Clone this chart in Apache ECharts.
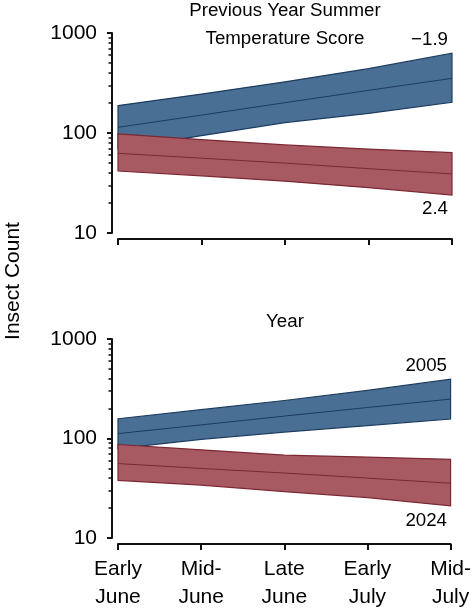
<!DOCTYPE html>
<html>
<head>
<meta charset="utf-8">
<script src="https://cdn.jsdelivr.net/npm/echarts@6/dist/echarts.min.js"></script>
<style>
  html, body { margin: 0; padding: 0; background: #fff; }
  #chart { width: 474px; height: 611px; }
</style>
</head>
<body>
<div id="chart"></div>
<script>
// ---- data ----
const categories = ['Early\nJune', 'Mid-\nJune', 'Late\nJune', 'Early\nJuly', 'Mid-\nJuly'];
const yMajorTicks = [10, 100, 1000];
const yMinorTicks = [20, 30, 40, 50, 60, 70, 80, 90, 200, 300, 400, 500, 600, 700, 800, 900];

// Panel 1: Previous Year Summer Temperature Score (-1.9 vs 2.4)
const coolUpper = [188, 245, 325, 440, 627];
const coolMid   = [114, 151, 201, 267, 352];
const coolLower = [69, 94, 127, 157, 203];
const warmUpper = [98, 86, 76, 69, 63.6];
const warmMid   = [62.6, 56, 50, 44, 39];
const warmLower = [41.7, 37.3, 33, 28.4, 24];

// Panel 2: Year (2005 vs 2024)
const y2005Upper = [158, 195, 241, 304, 395];
const y2005Mid   = [112, 137, 168, 205, 249];
const y2005Lower = [79, 98, 116, 135, 157];
const y2024Upper = [87, 77, 68, 65, 61.7];
const y2024Mid   = [56, 50, 45, 40, 35.5];
const y2024Lower = [38, 34, 29.3, 25.5, 21];

// ---- styles ----
const FONT = '"Liberation Sans", Arial, Helvetica, sans-serif';
const BLUE_FILL = '#4a6f95';
const BLUE_EDGE = '#1d3c5f';
const RED_FILL = '#a85a63';
const RED_EDGE = '#7b2833';
const AXIS = '#111';

const chart = echarts.init(document.getElementById('chart'), null, { renderer: 'canvas' });

function band(gridIdx, upper, lower, fill, stroke, z) {
  return {
    type: 'custom',
    xAxisIndex: gridIdx,
    yAxisIndex: gridIdx * 2,
    z: z,
    silent: true,
    data: [[0, upper[0]]],
    renderItem: function (params, api) {
      const pts = [];
      for (let i = 0; i < upper.length; i++) pts.push(api.coord([i, upper[i]]));
      for (let i = lower.length - 1; i >= 0; i--) pts.push(api.coord([i, lower[i]]));
      return {
        type: 'polygon',
        shape: { points: pts },
        style: { fill: fill, stroke: stroke, lineWidth: 1.2 }
      };
    }
  };
}

function midLine(gridIdx, values, color, z) {
  return {
    type: 'line',
    xAxisIndex: gridIdx,
    yAxisIndex: gridIdx * 2,
    z: z,
    silent: true,
    data: values,
    showSymbol: false,
    symbol: 'none',
    lineStyle: { color: color, width: 1 }
  };
}

function xAxis(gridIdx, showLabels) {
  return {
    type: 'category',
    gridIndex: gridIdx,
    data: categories,
    boundaryGap: false,
    offset: 6,
    axisLine: { show: true, lineStyle: { color: AXIS, width: 2 } },
    axisTick: { show: true, alignWithLabel: true, length: 6, lineStyle: { color: AXIS, width: 2 } },
    axisLabel: {
      show: showLabels, interval: 0, margin: 11,
      fontFamily: FONT, fontSize: 21, lineHeight: 28, color: '#000'
    },
    splitLine: { show: false }
  };
}

function yAxes(gridIdx) {
  return [
    {
      type: 'log', logBase: 10, gridIndex: gridIdx,
      min: yMajorTicks[0], max: yMajorTicks[yMajorTicks.length - 1], offset: 6, position: 'left',
      axisLine: { show: true, lineStyle: { color: AXIS, width: 2 } },
      axisTick: { show: true, length: 5, lineStyle: { color: AXIS, width: 2 } },
      axisLabel: {
        show: true, margin: 15,
        fontFamily: FONT, fontSize: 21, color: '#000',
        formatter: function (v) { return String(Math.round(v)); }
      },
      splitLine: { show: false }
    },
    {
      // helper axis in log10 space carrying the minor tick marks
      type: 'value', gridIndex: gridIdx,
      min: Math.log10(yMajorTicks[0]), max: Math.log10(yMajorTicks[yMajorTicks.length - 1]),
      offset: 6, position: 'left',
      axisLine: { show: false },
      axisTick: { show: true, length: 3.5, customValues: yMinorTicks.map(Math.log10), lineStyle: { color: AXIS, width: 1.5 } },
      axisLabel: { show: false },
      splitLine: { show: false }
    }
  ];
}

function txt(text, x, y, size, align, rotation) {
  return {
    type: 'text', x: x, y: y, rotation: rotation || 0, silent: true,
    style: {
      text: text, fill: '#000', font: size + 'px ' + FONT,
      textAlign: align || 'center', textVerticalAlign: 'middle'
    }
  };
}

const option = {
  animation: false,
  backgroundColor: '#fff',
  grid: [
    { left: 118, right: 22, top: 33, height: 200 },
    { left: 118, right: 22, top: 339, height: 200 }
  ],
  xAxis: [xAxis(0, false), xAxis(1, true)],
  yAxis: yAxes(0).concat(yAxes(1)),
  series: [
    band(0, coolUpper, coolLower, BLUE_FILL, BLUE_EDGE, 1),
    midLine(0, coolMid, BLUE_EDGE, 2),
    band(0, warmUpper, warmLower, RED_FILL, RED_EDGE, 3),
    midLine(0, warmMid, RED_EDGE, 4),
    band(1, y2005Upper, y2005Lower, BLUE_FILL, BLUE_EDGE, 1),
    midLine(1, y2005Mid, BLUE_EDGE, 2),
    band(1, y2024Upper, y2024Lower, RED_FILL, RED_EDGE, 3),
    midLine(1, y2024Mid, RED_EDGE, 4)
  ],
  graphic: [
    txt('Previous Year Summer', 285, 11, 18.7),
    txt('Temperature Score', 285, 39, 18.7),
    txt('\u22121.9', 448, 40, 18.7, 'right'),
    txt('2.4', 448, 209, 18.7, 'right'),
    txt('Year', 285, 322, 18.7),
    txt('2005', 447, 366, 18.7, 'right'),
    txt('2024', 447, 521, 18.7, 'right'),
    txt('Insect Count', 13, 281, 21, 'center', Math.PI / 2)
  ]
};

chart.setOption(option);
</script>
</body>
</html>
